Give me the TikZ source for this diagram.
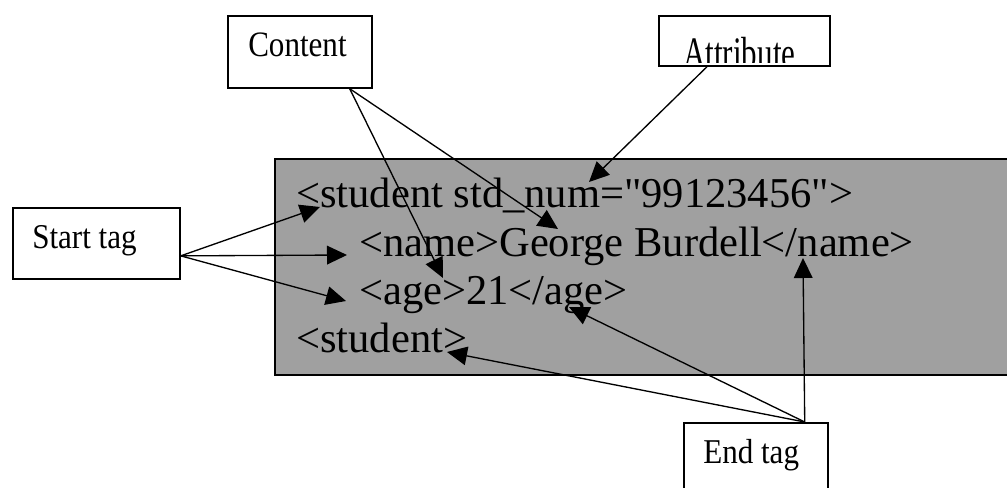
\documentclass[tikz,border=0pt]{standalone}
\usepackage{graphicx}
\usepackage{fontspec}
\setmainfont{Liberation Serif}
\newfontfamily\codefont{Liberation Serif}[Ligatures=TeXOff]
\usetikzlibrary{arrows.meta,calc}
\definecolor{codegray}{RGB}{160,160,160}
\newcommand{\stretchtext}[2]{\scalebox{1}[#1]{#2}}
\tikzset{
  labelbox/.style={draw, line width=1.3pt, inner sep=0pt, anchor=north west},
  codeline/.style={anchor=base west, inner sep=0pt, font=\codefont\fontsize{31.9}{38}\selectfont},
  labeltext/.style={anchor=base west, inner sep=0pt, font=\fontsize{23.3}{28}\selectfont},
  pointer/.style={-{Triangle[length=15pt,width=14pt]}, line width=1pt}
}
\begin{document}
\begin{tikzpicture}[x=0.75pt, y=-0.75pt]
  \useasboundingbox (0,0) rectangle (1007,488);

  \draw[line width=1.2pt, fill=codegray] (275,159) rectangle (1012,375);
  \node[codeline] (line1) at (296,208) {<student std\_num="99123456">};
  \node[codeline] (line2) at (359,257) {<name>George Burdell</name>};
  \node[codeline] (line3) at (359,305) {<age>21</age>};
  \node[codeline] (line4) at (296,353) {<student>};

  \node[labeltext] (contentlbl) at (248,57) {\stretchtext{1.15}{Content}};
  \begin{scope}
    \clip (658,15) rectangle (829,63);
    \node[labeltext] (attributelbl) at (683,69) {\stretchtext{1.45}{Attribute}};
  \end{scope}
  \node[labeltext] (startlbl) at (32,249) {\stretchtext{1.12}{Start tag}};
  \node[labeltext] (endlbl) at (703,463) {\stretchtext{1.12}{End tag}};

  \node[labelbox, minimum width=108pt, minimum height=54pt] (content) at (227,15) {};
  \node[labelbox, minimum width=128.25pt, minimum height=37.5pt] (attribute) at (658,15) {};
  \node[labelbox, minimum width=125.25pt, minimum height=53.25pt] (starttag) at (12,207) {};
  \node[labelbox, minimum width=108pt, minimum height=60pt] (endtag) at (683,422) {};

  \coordinate (attrtip) at (589,182);
  \coordinate (georgetip) at (558,229);
  \coordinate (agetip) at (443,278);
  \coordinate (studenttip) at (320,207);
  \coordinate (nametip) at (347,255);
  \coordinate (ageopentip) at (346,301);
  \coordinate (nameclosetip) at (803,258);
  \coordinate (ageclosetip) at (569,307);
  \coordinate (studentclosetip) at (447,352);

  \draw[pointer] ($(content.south east)+(-23,0)$) -- (agetip);
  \draw[pointer] ($(content.south east)+(-23,0)$) -- (georgetip);
  \draw[pointer] ($(attribute.south west)+(49,0)$) -- (attrtip);
  \draw[pointer] ($(starttag.east)+(0,12.5)$) -- (studenttip);
  \draw[pointer] ($(starttag.east)+(0,12.5)$) -- (nametip);
  \draw[pointer] ($(starttag.east)+(0,12.5)$) -- (ageopentip);
  \draw[pointer] ($(endtag.north east)+(-24,0)$) -- (nameclosetip);
  \draw[pointer] ($(endtag.north east)+(-24,0)$) -- (ageclosetip);
  \draw[pointer] ($(endtag.north east)+(-24,0)$) -- (studentclosetip);
\end{tikzpicture}
\end{document}
